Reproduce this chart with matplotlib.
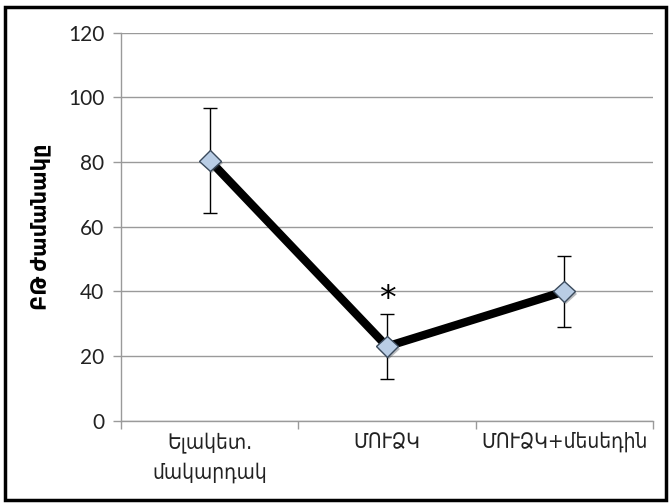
import numpy as np
import matplotlib.pyplot as plt
from matplotlib.patches import Rectangle
import matplotlib.patheffects as pe

categories = ['Ելակետ.\nմակարդակ', 'ՄՈՒՁԿ', 'ՄՈՒՁԿ+մեսեդին']
means = [80.5, 23.0, 40.0]
errors = [16.2, 10.0, 11.0]
star_value = 37.5
y_label = 'ԲԹ ժամանակը'

fonts = ['Lato', 'DejaVu Sans']
grey = '#9a9a9a'

fig = plt.figure(figsize=(6.69, 5.04), dpi=100)
ax = fig.add_axes([0.181, 0.165, 0.795, 0.77])

x = np.arange(len(categories))
ax.errorbar(x, means, yerr=errors, fmt='none', ecolor='black',
            elinewidth=1.0, capsize=5, capthick=1.0, zorder=3)
ax.plot(x, means, color='black', linewidth=6, solid_capstyle='round', zorder=4)
ax.plot(x, means, linestyle='none', marker='D', markersize=11,
        markerfacecolor='#b9cde5', markeredgecolor='#3a4a5c', markeredgewidth=1.0,
        zorder=5,
        path_effects=[pe.SimplePatchShadow(offset=(1.5, -1.5), alpha=0.35), pe.Normal()])
ax.text(1, star_value, '*', ha='center', va='center', fontsize=24,
        family=['DejaVu Sans'], zorder=6)

ax.set_xlim(-0.5, 2.5)
ax.set_ylim(0, 120)
ax.set_yticks(np.arange(0, 121, 20))
ax.set_xticks(x)
ax.set_xticklabels(categories, family=['DejaVu Sans'], fontsize=15,
                   fontstretch='condensed', linespacing=1.6, color='#222222')
ax.set_xticks([-0.5, 0.5, 1.5, 2.5], minor=True)
ax.tick_params(axis='x', which='major', length=0, pad=8)
ax.tick_params(axis='x', which='minor', length=6, color=grey, width=1)
ax.tick_params(axis='y', length=6, color=grey, width=1, labelsize=15, pad=6)
for lab in ax.get_yticklabels():
    lab.set_family(fonts)
    lab.set_color('#222222')

ax.grid(axis='y', color=grey, linewidth=1)
ax.set_axisbelow(True)
for s in ['top', 'right']:
    ax.spines[s].set_visible(False)
for s in ['left', 'bottom']:
    ax.spines[s].set_color(grey)
    ax.spines[s].set_linewidth(1)

ax.set_ylabel(y_label, family=fonts, fontsize=15, fontweight='bold', labelpad=12)

fig.patches.append(Rectangle((0.008, 0.008), 0.988, 0.978, transform=fig.transFigure,
                             fill=False, edgecolor='black', linewidth=2.5))

plt.savefig('out.png', dpi=100)
